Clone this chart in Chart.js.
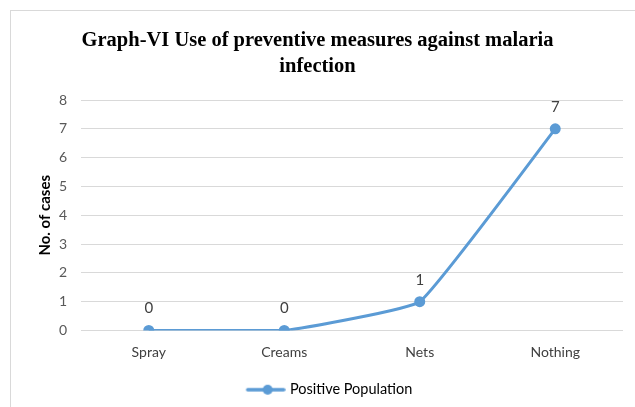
<!DOCTYPE html>
<html>
<head>
<meta charset="utf-8">
<script src="https://cdn.jsdelivr.net/npm/chart.js@4/dist/chart.umd.min.js"></script>
<style>
  html, body { margin: 0; padding: 0; background: #fff; }
  #wrap { position: relative; width: 635px; height: 407px; overflow: hidden; }
  #frame { position: absolute; left: 10px; top: 10px; width: 700px; height: 500px; border: 1px solid #d9d9d9; box-sizing: border-box; }
  canvas { position: absolute; left: 0; top: 0; }
</style>
</head>
<body>
<div id="wrap">
  <div id="frame"></div>
  <canvas id="c" width="635" height="407"></canvas>
</div>
<script>
const categories = ["Spray", "Creams", "Nets", "Nothing"];
const positivePopulation = [0, 0, 1, 7];
const yTicks = [0, 1, 2, 3, 4, 5, 6, 7, 8];
const seriesName = "Positive Population";
const chartTitle = ["Graph-VI Use of preventive measures against malaria", "infection"];
const yAxisTitle = "No. of cases";

const SANS = 'Lato, "Open Sans", sans-serif';
const LINE_COLOR = '#5b9bd5';

// legend marker: line with a circle, drawn in the right part of a wider image
const marker = document.createElement('canvas');
marker.width = 66; marker.height = 12;
(function () {
  const m = marker.getContext('2d');
  const x0 = 28, x1 = 64;
  m.strokeStyle = LINE_COLOR; m.lineWidth = 3.5; m.lineCap = 'round';
  m.beginPath(); m.moveTo(x0, 6); m.lineTo(x1, 6); m.stroke();
  m.fillStyle = LINE_COLOR;
  m.beginPath(); m.arc((x0 + x1) / 2 + 2, 6, 5, 0, Math.PI * 2); m.fill();
})();

const labelPlugin = {
  id: 'valueLabels',
  afterDatasetsDraw(chart) {
    const ctx = chart.ctx;
    const meta = chart.getDatasetMeta(0);
    ctx.save();
    ctx.font = '15px ' + SANS;
    ctx.fillStyle = '#404040';
    ctx.textAlign = 'center';
    ctx.textBaseline = 'middle';
    meta.data.forEach((pt, i) => {
      ctx.fillText(String(chart.data.datasets[0].data[i]), pt.x, pt.y - 22);
    });
    ctx.restore();
  }
};

new Chart(document.getElementById('c'), {
  type: 'line',
  data: {
    labels: categories,
    datasets: [{
      label: seriesName,
      data: positivePopulation,
      borderColor: LINE_COLOR,
      backgroundColor: LINE_COLOR,
      borderWidth: 3,
      pointRadius: 5.5,
      pointHoverRadius: 5.5,
      pointBackgroundColor: LINE_COLOR,
      pointBorderColor: LINE_COLOR,
      pointBorderWidth: 0,
      tension: 0.1,
      fill: false
    }]
  },
  options: {
    responsive: false,
    animation: false,
    devicePixelRatio: 1,
    layout: { padding: { left: 12, right: 12, top: 19, bottom: 0 } },
    plugins: {
      title: {
        display: true,
        text: chartTitle,
        color: '#000',
        font: { family: '"Liberation Serif", "Times New Roman", serif', size: 20.5, weight: 'bold', lineHeight: 1.27 },
        padding: { top: 9, bottom: 20 }
      },
      legend: {
        display: true,
        position: 'bottom',
        labels: {
          color: '#404040',
          font: { family: SANS, size: 14.5 },
          usePointStyle: true,
          pointStyleWidth: 60,
          boxWidth: 60,
          padding: 13,
          generateLabels(chart) {
            const ds = chart.data.datasets[0];
            return [{
              text: ds.label,
              strokeStyle: ds.borderColor,
              fillStyle: ds.borderColor,
              lineWidth: 0,
              pointStyle: marker,
              datasetIndex: 0
            }];
          }
        }
      },
      tooltip: { enabled: false }
    },
    scales: {
      x: {
        offset: true,
        grid: { display: false, drawTicks: false },
        border: { display: false },
        ticks: { color: '#404040', font: { family: SANS, size: 14 }, padding: 14 },
        afterFit(scale) { scale.height = 39; }
      },
      y: {
        min: 0,
        max: 8,
        afterBuildTicks(scale) { scale.ticks = yTicks.map(v => ({ value: v })); },
        afterFit(scale) { scale.width = 69; },
        grid: { color: '#d9d9d9', drawTicks: false, lineWidth: 1 },
        border: { display: false },
        ticks: { color: '#595959', font: { family: SANS, size: 14 }, padding: 14 },
        title: {
          display: true,
          text: yAxisTitle,
          color: '#000',
          font: { family: SANS, size: 15, weight: 'bold' },
          padding: { top: 24, bottom: 0 }
        }
      }
    }
  },
  plugins: [labelPlugin]
});
</script>
</body>
</html>
